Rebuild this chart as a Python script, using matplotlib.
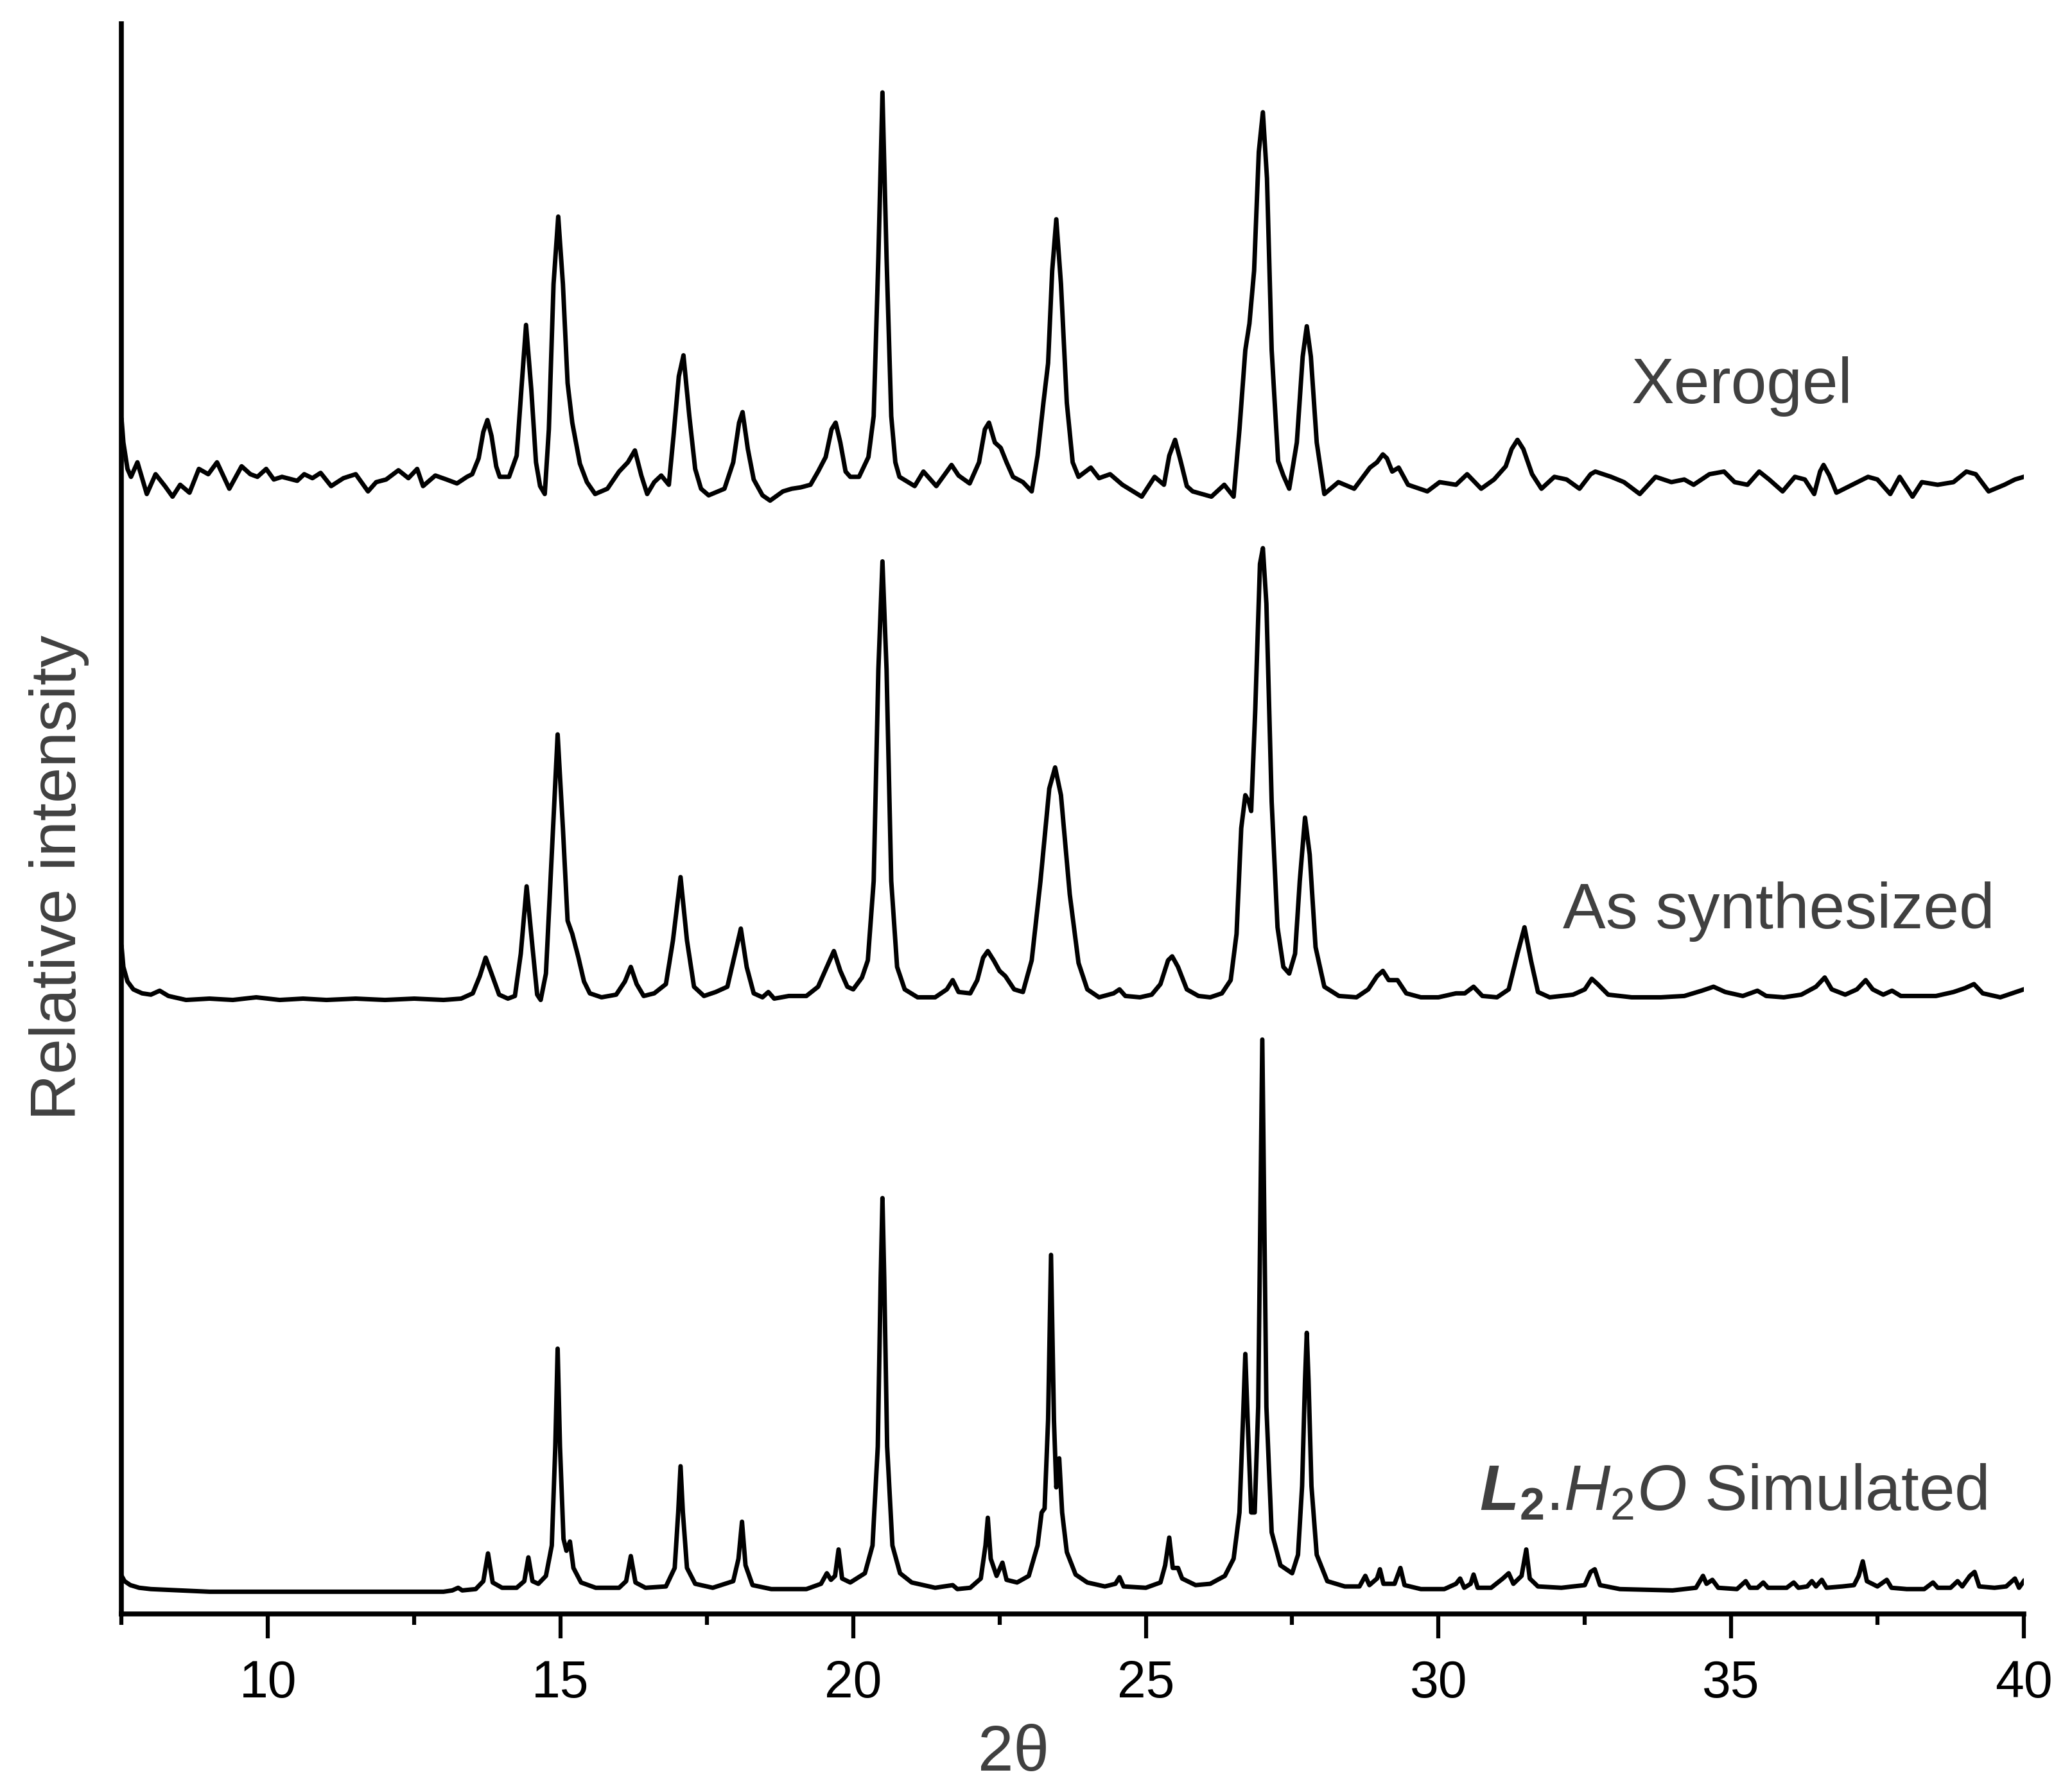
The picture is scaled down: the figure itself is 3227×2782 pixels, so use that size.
import numpy as np
import matplotlib
matplotlib.use("Agg")
from matplotlib import pyplot as plt
from matplotlib.ticker import MultipleLocator

plt.rcParams['font.family'] = ['Liberation Sans', 'DejaVu Sans']
plt.rcParams['mathtext.fontset'] = 'custom'
plt.rcParams['mathtext.rm'] = 'Liberation Sans'
plt.rcParams['mathtext.it'] = 'Liberation Sans:italic'
plt.rcParams['mathtext.bf'] = 'Liberation Sans:bold'
plt.rcParams['mathtext.bfit'] = 'Liberation Sans:bold:italic'

# traces: (2theta, intensity above own baseline)
sim_2theta = [7.5, 7.55, 7.65, 7.8, 8.0, 8.5, 9.0, 13.0, 13.15, 13.25, 13.32, 13.55, 13.68, 13.76, 13.84, 14.0,
              14.25, 14.38, 14.45, 14.52, 14.62, 14.75, 14.85, 14.91, 14.95, 14.99, 15.05, 15.1, 15.16, 15.22,
              15.35, 15.6, 16.0, 16.12, 16.2, 16.28, 16.45, 16.8, 16.95, 17.01, 17.05, 17.09, 17.16, 17.3, 17.6,
              17.95, 18.04, 18.1, 18.16, 18.28, 18.6, 19.2, 19.45, 19.55, 19.62, 19.69, 19.75, 19.81, 19.95, 20.2,
              20.33, 20.42, 20.47, 20.5, 20.53, 20.58, 20.67, 20.8, 21.0, 21.4, 21.7, 21.78, 22.0, 22.18, 22.26,
              22.3, 22.35, 22.45, 22.55, 22.62, 22.8, 23.0, 23.15, 23.22, 23.27, 23.33, 23.38, 23.43, 23.47, 23.52,
              23.57, 23.65, 23.8, 24.0, 24.3, 24.48, 24.55, 24.62, 25.0, 25.25, 25.33, 25.4, 25.46, 25.55, 25.62,
              25.85, 26.1, 26.35, 26.5, 26.6, 26.66, 26.7, 26.74, 26.8, 26.86, 26.92, 26.96, 26.99, 27.02, 27.06,
              27.15, 27.3, 27.5, 27.6, 27.67, 27.72, 27.75, 27.78, 27.83, 27.92, 28.1, 28.4, 28.65, 28.75, 28.82,
              28.95, 29.0, 29.06, 29.25, 29.35, 29.42, 29.7, 30.1, 30.3, 30.37, 30.44, 30.55, 30.6, 30.67, 30.9,
              31.1, 31.2, 31.28, 31.42, 31.5, 31.56, 31.7, 32.1, 32.5, 32.6, 32.67, 32.76, 33.1, 34.0, 34.4, 34.52,
              34.58, 34.68, 34.78, 35.1, 35.25, 35.32, 35.45, 35.55, 35.63, 35.95, 36.07, 36.15, 36.3, 36.38, 36.45,
              36.55, 36.63, 36.9, 37.1, 37.18, 37.25, 37.32, 37.5, 37.66, 37.74, 38.0, 38.3, 38.45, 38.53, 38.75,
              38.87, 38.95, 39.08, 39.16, 39.24, 39.5, 39.7, 39.85, 39.92, 40.0]
sim_int = [12, 8, 5, 3, 2, 1, 0, 0, 1, 3, 1, 2, 8, 29, 7, 3,
           3, 8, 26, 8, 6, 12, 35, 110, 184, 110, 40, 31, 38, 18,
           7, 3, 3, 8, 27, 7, 3, 4, 18, 60, 95, 60, 18, 6, 3,
           8, 25, 53, 20, 5, 2, 2, 6, 14, 9, 12, 32, 10, 7, 14,
           35, 110, 238, 298, 238, 110, 35, 14, 7, 3, 5, 2, 3, 10, 35,
           56, 25, 12, 22, 9, 7, 12, 35, 60, 63, 130, 255, 130, 79, 101,
           60, 30, 13, 7, 4, 6, 11, 4, 3, 7, 20, 41, 18, 18, 10,
           5, 6, 12, 25, 60, 130, 180, 130, 60, 60, 140, 300, 418, 300, 140,
           45, 20, 14, 28, 80, 160, 196, 160, 80, 28, 8, 4, 4, 12, 5,
           10, 17, 6, 6, 18, 5, 2, 2, 6, 10, 3, 6, 13, 3, 3,
           10, 14, 6, 12, 32, 10, 4, 3, 5, 15, 17, 5, 2, 1, 3, 12,
           6, 9, 3, 2, 8, 3, 3, 7, 3, 3, 7, 3, 4, 8, 4,
           9, 3, 4, 5, 12, 23, 8, 4, 9, 3, 2, 2, 7, 3, 3,
           8, 4, 12, 15, 4, 3, 4, 10, 3, 8]

syn_2theta = [7.5, 7.53, 7.6, 7.7, 7.85, 8.0, 8.15, 8.3, 8.6, 9.0, 9.4, 9.8, 10.2, 10.6, 11.0, 11.5, 12.0, 12.5,
              13.0, 13.3, 13.5, 13.62, 13.72, 13.82, 13.95, 14.1, 14.22, 14.32, 14.42, 14.52, 14.6, 14.66, 14.75,
              14.85, 14.95, 15.04, 15.12, 15.2, 15.3, 15.4, 15.5, 15.7, 15.95, 16.1, 16.2, 16.3, 16.42, 16.6, 16.8,
              16.92, 17.05, 17.16, 17.28, 17.45, 17.65, 17.85, 17.98, 18.08, 18.18, 18.3, 18.45, 18.55, 18.65, 18.9,
              19.2, 19.4, 19.55, 19.67, 19.78, 19.9, 20.0, 20.15, 20.25, 20.35, 20.43, 20.5, 20.57, 20.65, 20.75,
              20.88, 21.1, 21.4, 21.6, 21.7, 21.8, 22.0, 22.12, 22.22, 22.3, 22.4, 22.5, 22.6, 22.75, 22.9, 23.05,
              23.2, 23.35, 23.45, 23.55, 23.7, 23.85, 24.0, 24.2, 24.45, 24.55, 24.65, 24.9, 25.1, 25.25, 25.38,
              25.45, 25.55, 25.7, 25.9, 26.1, 26.3, 26.45, 26.55, 26.63, 26.7, 26.76, 26.8, 26.87, 26.95, 27.0,
              27.06, 27.15, 27.25, 27.35, 27.45, 27.55, 27.63, 27.72, 27.8, 27.9, 28.05, 28.3, 28.6, 28.8, 28.95,
              29.05, 29.15, 29.3, 29.45, 29.7, 30.0, 30.3, 30.45, 30.6, 30.75, 31.0, 31.2, 31.35, 31.47, 31.58,
              31.7, 31.9, 32.3, 32.5, 32.62, 32.72, 32.9, 33.3, 33.8, 34.2, 34.5, 34.7, 34.9, 35.2, 35.45, 35.6,
              35.9, 36.2, 36.45, 36.6, 36.72, 36.95, 37.15, 37.3, 37.42, 37.6, 37.75, 37.9, 38.2, 38.5, 38.8, 39.0,
              39.15, 39.3, 39.6, 39.8, 40.0]
syn_int = [40, 25, 14, 8, 5, 4, 7, 3, 0, 1, 0, 2, 0, 1, 0, 1, 0, 1,
           0, 1, 5, 18, 32, 20, 4, 1, 3, 35, 86, 40, 4, 0, 20,
           110, 201, 130, 60, 50, 33, 14, 5, 2, 4, 14, 25, 12, 3, 5, 12,
           45, 93, 45, 10, 3, 6, 10, 35, 54, 25, 5, 2, 6, 1, 3,
           3, 10, 25, 37, 22, 10, 8, 17, 30, 90, 250, 332, 250, 90, 25,
           8, 2, 2, 8, 15, 6, 5, 15, 32, 37, 30, 22, 18, 8, 6, 30,
           90, 160, 176, 155, 80, 28, 8, 2, 5, 8, 3, 2, 4, 12, 30,
           33, 25, 8, 3, 2, 5, 15, 50, 130, 155, 150, 143, 220, 330, 342,
           300, 150, 55, 25, 20, 35, 90, 138, 110, 40, 10, 3, 2, 8, 18,
           22, 15, 15, 5, 2, 2, 5, 5, 10, 3, 2, 8, 35, 55, 30,
           6, 2, 4, 8, 16, 12, 4, 2, 2, 3, 7, 10, 6, 3, 7, 3,
           2, 4, 10, 17, 8, 4, 8, 15, 8, 4, 7, 3, 3, 3, 6, 9,
           12, 5, 2, 5, 8]

xer_2theta = [7.5, 7.53, 7.6, 7.66, 7.77, 7.93, 8.08, 8.24, 8.37, 8.5, 8.66, 8.82, 8.98, 9.13, 9.34, 9.55, 9.7,
              9.82, 9.97, 10.1, 10.24, 10.5, 10.62, 10.76, 10.9, 11.08, 11.29, 11.5, 11.71, 11.85, 12.02, 12.23,
              12.4, 12.55, 12.65, 12.86, 13.05, 13.23, 13.4, 13.49, 13.6, 13.68, 13.75, 13.82, 13.9, 13.96, 14.12,
              14.25, 14.33, 14.41, 14.5, 14.58, 14.65, 14.73, 14.8, 14.88, 14.96, 15.04, 15.12, 15.2, 15.33, 15.45,
              15.59, 15.8, 16.0, 16.15, 16.27, 16.38, 16.48, 16.6, 16.72, 16.85, 16.93, 17.02, 17.1, 17.2, 17.3,
              17.4, 17.53, 17.8, 17.95, 18.05, 18.11, 18.2, 18.3, 18.45, 18.58, 18.8, 18.95, 19.1, 19.27, 19.4,
              19.53, 19.63, 19.7, 19.78, 19.87, 19.95, 20.1, 20.26, 20.35, 20.43, 20.5, 20.57, 20.65, 20.72, 20.79,
              21.05, 21.2, 21.42, 21.6, 21.68, 21.8, 21.99, 22.15, 22.25, 22.32, 22.42, 22.52, 22.62, 22.73, 22.9,
              23.05, 23.15, 23.25, 23.33, 23.4, 23.47, 23.55, 23.65, 23.75, 23.85, 24.06, 24.2, 24.39, 24.6, 24.93,
              25.15, 25.31, 25.4, 25.5, 25.6, 25.7, 25.8, 26.12, 26.34, 26.5, 26.6, 26.7, 26.77, 26.85, 26.93,
              27.0, 27.07, 27.15, 27.26, 27.35, 27.45, 27.58, 27.68, 27.75, 27.82, 27.92, 28.05, 28.29, 28.56,
              28.83, 28.95, 29.05, 29.12, 29.21, 29.32, 29.48, 29.81, 30.02, 30.3, 30.49, 30.73, 30.95, 31.15,
              31.25, 31.35, 31.45, 31.6, 31.76, 31.98, 32.19, 32.41, 32.6, 32.68, 32.95, 33.17, 33.44, 33.71,
              33.98, 34.2, 34.36, 34.63, 34.88, 35.06, 35.28, 35.48, 35.65, 35.88, 36.09, 36.26, 36.42, 36.52,
              36.58, 36.68, 36.8, 37.07, 37.34, 37.5, 37.72, 37.88, 38.1, 38.26, 38.53, 38.8, 39.02, 39.18, 39.4,
              39.67, 39.85, 40.0]
xer_int = [47, 30, 10, 4, 15, -9, 6, -3, -11, -2, -8, 10, 6, 15, -5, 12, 6,
           4, 10, 2, 4, 1, 6, 3, 7, -3, 3, 6, -7, 0, 2, 9,
           3, 10, -3, 5, 2, -1, 4, 6, 18, 38, 47, 35, 12, 4, 4,
           20, 70, 119, 70, 15, -3, -9, 40, 150, 201, 150, 75, 45, 14, 0,
           -9, -5, 8, 15, 24, 5, -9, 0, 5, -2, 35, 80, 96, 50, 10,
           -5, -10, -5, 15, 45, 53, 25, 2, -10, -14, -7, -5, -4, -2, 8,
           19, 40, 45, 30, 8, 4, 4, 19, 50, 170, 295, 170, 50, 15, 4,
           -3, 8, -3, 8, 13, 5, -1, 15, 40, 45, 30, 26, 15, 4, 0,
           -7, 20, 60, 90, 160, 199, 150, 60, 15, 4, 11, 3, 6, -2, -11,
           4, -2, 20, 32, 15, -3, -7, -11, -2, -11, 40, 100, 120, 160, 250,
           280, 230, 100, 16, 5, -5, 30, 95, 118, 95, 30, -9, 0, -5,
           11, 15, 21, 18, 8, 11, -2, -7, 0, -2, 6, -5, 2, 12,
           25, 32, 25, 6, -5, 4, 2, -5, 6, 8, 4, 0, -9, 4,
           0, 2, -2, 6, 8, 0, -2, 8, 2, -7, 4, 2, -9, 8,
           13, 5, -8, -2, 4, 2, -9, 4, -11, 0, -2, 0, 8, 6, -7,
           -2, 2, 4]

offsets = {'sim': 17, 'syn': 465, 'xer': 857}

fig = plt.figure(figsize=(32.27, 27.82), dpi=100)
ax = fig.add_axes([0.0587, 0.0962, 0.918, 0.8905])

lw = 5
ax.plot(sim_2theta, np.array(sim_int) + offsets['sim'], color='black', lw=lw, solid_joinstyle='round')
ax.plot(syn_2theta, np.array(syn_int) + offsets['syn'], color='black', lw=lw, solid_joinstyle='round')
ax.plot(xer_2theta, np.array(xer_int) + offsets['xer'], color='black', lw=lw, solid_joinstyle='round')

ax.set_xlim(7.5, 40)
ax.set_ylim(0, 1204)

for s in ['top', 'right']:
    ax.spines[s].set_visible(False)
for s in ['left', 'bottom']:
    ax.spines[s].set_linewidth(5.5)

ax.set_yticks([])
ax.xaxis.set_major_locator(MultipleLocator(5))
ax.xaxis.set_minor_locator(MultipleLocator(2.5))
ax.tick_params(axis='x', which='major', direction='out', length=27, width=4.5, labelsize=58, pad=24)
ax.tick_params(axis='x', which='minor', direction='out', length=12, width=4.5)

label_color = '#404040'
ax.set_xlabel('2θ', fontsize=72, color=label_color, va='top')
ax.xaxis.set_label_coords(0.469, -0.069)
ax.set_ylabel('Relative intensity', fontsize=72, color=label_color)
ax.yaxis.set_label_coords(-0.017, 0.463)

ax.text(33.3, 917, 'Xerogel', fontsize=72, color=label_color, va='baseline')
ax.text(32.13, 519, 'As synthesized', fontsize=72, color=label_color, va='baseline')
ax.text(30.7, 79, r'$\mathbfit{L}_{\mathbf{2}}$.$\mathit{H}_{\mathrm{2}}\mathit{O}$ Simulated',
        fontsize=72, color=label_color, va='baseline')

fig.savefig('out.png', dpi=100)
